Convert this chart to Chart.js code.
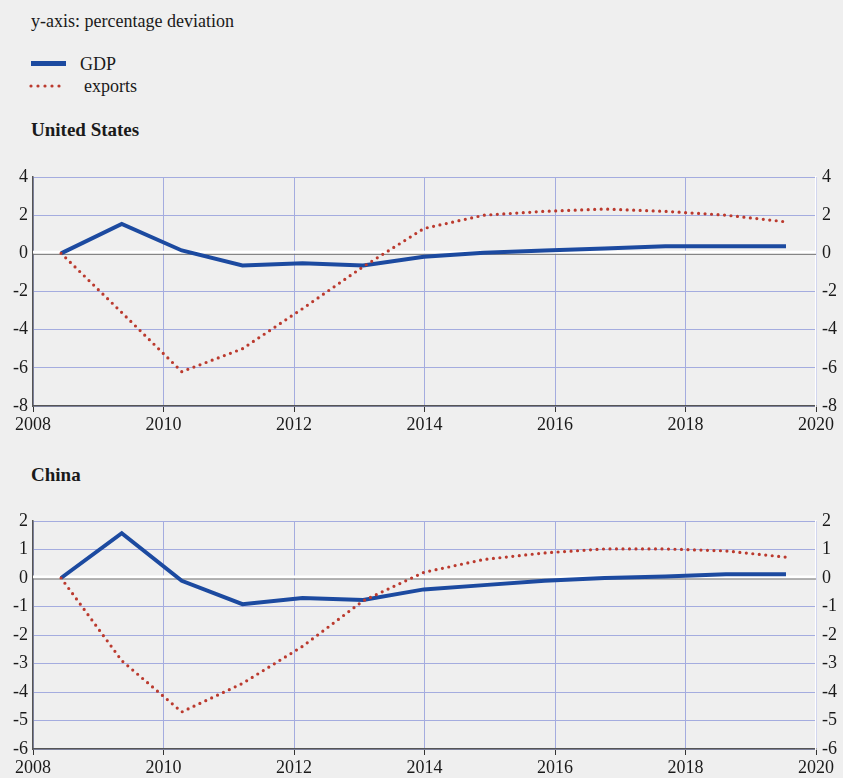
<!DOCTYPE html>
<html>
<head>
<meta charset="utf-8">
<script src="https://cdn.jsdelivr.net/npm/chart.js@4.4.1/dist/chart.umd.min.js"></script>
<style>
  html, body { margin: 0; padding: 0; background: #efefef; }
  body { width: 843px; height: 778px; position: relative; overflow: hidden;
         font-family: "Liberation Serif", "Times New Roman", serif; color: #1a1a1a; }
  .txt { position: absolute; line-height: 1; white-space: nowrap; }
  .box { position: absolute; left: 0; width: 843px; }
  .gdpKey { position: absolute; left: 31px; top: 61px; width: 35px; height: 5px; background: #1c4aa0; }
  .expKey { position: absolute; left: 29px; top: 84px; width: 35px; height: 4px; }
</style>
</head>
<body>
<div class="txt" style="left:31px; top:12px; font-size:18px;">y-axis: percentage deviation</div>
<div class="gdpKey"></div>
<div class="txt" style="left:80px; top:55px; font-size:18px;">GDP</div>
<canvas class="expKey" id="expKey" width="35" height="4"></canvas>
<div class="txt" style="left:84px; top:77px; font-size:18px;">exports</div>
<div class="txt" style="left:31px; top:120px; font-size:19px; font-weight:bold;">United States</div>
<div class="txt" style="left:31px; top:465px; font-size:19px; font-weight:bold;">China</div>

<div class="box" style="top:160px; height:280px;"><canvas id="chartUS"></canvas></div>
<div class="box" style="top:504px; height:274px;"><canvas id="chartCN"></canvas></div>

<script>
// ================= DADOS =================
const years = [2008.43, 2009.36, 2010.28, 2011.21, 2012.13, 2013.06, 2013.99,
               2014.91, 2015.84, 2016.76, 2017.69, 2018.62, 2019.54];

const usGdp     = [0, 1.54, 0.15, -0.64, -0.52, -0.64, -0.18, 0.03, 0.15, 0.25, 0.37, 0.37, 0.37];
const usExports = [0, -3.1, -6.2, -5.0, -2.9, -0.7, 1.3, 2.0, 2.2, 2.32, 2.2, 2.0, 1.65];

const cnGdp     = [0, 1.57, -0.1, -0.92, -0.7, -0.77, -0.4, -0.25, -0.1, 0.0, 0.05, 0.13, 0.13];
const cnExports = [0, -2.9, -4.7, -3.7, -2.4, -0.8, 0.2, 0.65, 0.88, 1.02, 1.02, 0.95, 0.73];

const xTicks = [2008, 2010, 2012, 2014, 2016, 2018, 2020];

// ================= ESTILO =================
const BLUE = "#1c4aa0";
const RED = "#bb3a2e";
const GRID = "#a4acdf";
const FONT = { family: "'Liberation Serif', 'Times New Roman', serif", size: 18 };

// legenda pontilhada
(function () {
  const c = document.getElementById("expKey").getContext("2d");
  c.fillStyle = RED;
  for (let i = 0; i < 5; i++) {
    c.beginPath();
    c.arc(2 + i * 7, 2, 1.6, 0, Math.PI * 2);
    c.fill();
  }
})();

// linha do zero: faixa branca com traço cinza por baixo
const zeroLine = {
  id: "zeroLine",
  beforeDatasetsDraw(chart) {
    const { ctx, chartArea, scales } = chart;
    const y = scales.y.getPixelForValue(0);
    ctx.save();
    ctx.strokeStyle = "#ffffff";
    ctx.lineWidth = 3;
    ctx.beginPath();
    ctx.moveTo(chartArea.left, y - 1);
    ctx.lineTo(chartArea.right, y - 1);
    ctx.stroke();
    ctx.strokeStyle = "#6f6f6f";
    ctx.lineWidth = 1;
    ctx.beginPath();
    ctx.moveTo(chartArea.left, y + 1);
    ctx.lineTo(chartArea.right, y + 1);
    ctx.stroke();
    ctx.restore();
  }
};

function pairs(vals) {
  return years.map((x, i) => ({ x: x, y: vals[i] }));
}

function makeChart(id, gdp, exp, yMin, yMax, yStep, xHeight) {
  const yTicks = {
    stepSize: yStep,
    color: "#1a1a1a",
    font: FONT
  };
  return new Chart(document.getElementById(id), {
    type: "line",
    data: {
      datasets: [{
        label: "exports",
        data: pairs(exp),
        borderColor: RED,
        borderWidth: 3.2,
        borderDash: [0, 6.5],
        borderCapStyle: "round",
        pointRadius: 0,
        tension: 0
      }, {
        label: "GDP",
        data: pairs(gdp),
        borderColor: BLUE,
        borderWidth: 4,
        pointRadius: 0,
        tension: 0
      }]
    },
    options: {
      responsive: true,
      maintainAspectRatio: false,
      animation: false,
      layout: { padding: { top: 17, left: 0, right: 0, bottom: 0 } },
      plugins: { legend: { display: false }, tooltip: { enabled: false } },
      scales: {
        x: {
          type: "linear",
          min: 2008,
          max: 2020,
          afterBuildTicks: (s) => { s.ticks = xTicks.map(v => ({ value: v })); },
          afterFit: (s) => { s.height = xHeight; },
          ticks: { color: "#1a1a1a", font: FONT, padding: 2, maxRotation: 0,
                   callback: (v) => String(v) },
          grid: { color: GRID, lineWidth: 1, tickLength: 6, tickColor: "#333" },
          border: { color: "#555", width: 1.5 }
        },
        y: {
          min: yMin,
          max: yMax,
          afterFit: (s) => { s.width = 33; },
          ticks: Object.assign({ padding: 5 }, yTicks),
          grid: {
            drawTicks: false,
            lineWidth: 1,
            color: (c) => (c.tick && c.tick.value === 0) ? "rgba(0,0,0,0)" : GRID
          },
          border: { color: "#555", width: 1.5 }
        },
        y2: {
          position: "right",
          min: yMin,
          max: yMax,
          afterFit: (s) => { s.width = 27; },
          ticks: Object.assign({ padding: 6 }, yTicks),
          grid: { display: false, drawTicks: false },
          border: { color: "#ffffff", width: 1.5 }
        }
      }
    },
    plugins: [zeroLine]
  });
}

makeChart("chartUS", usGdp, usExports, -8, 4, 2, 34);
makeChart("chartCN", cnGdp, cnExports, -6, 2, 1, 29);
</script>
</body>
</html>
